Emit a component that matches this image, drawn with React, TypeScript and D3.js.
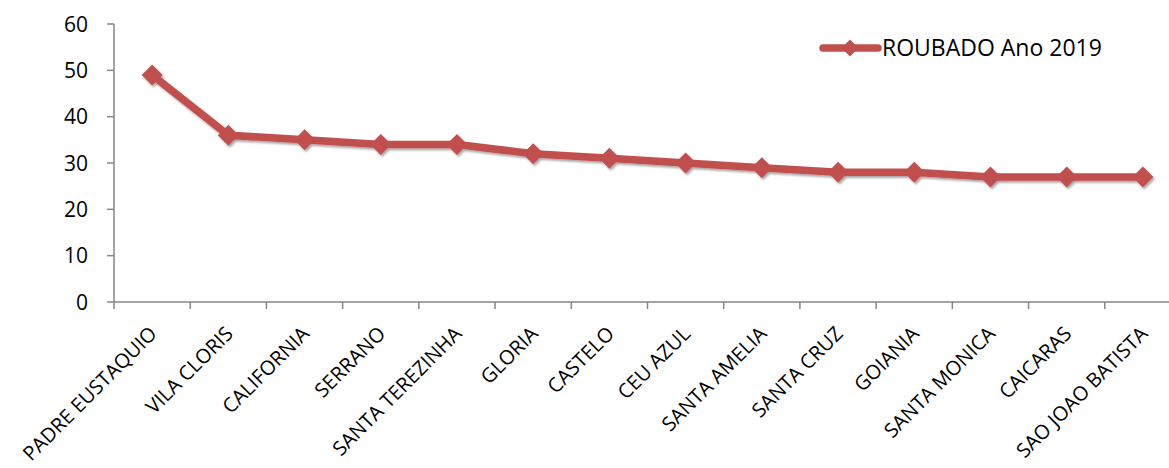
import React from "react";
import * as d3 from "d3";

const categories = [
  "PADRE EUSTAQUIO", "VILA CLORIS", "CALIFORNIA", "SERRANO", "SANTA TEREZINHA",
  "GLORIA", "CASTELO", "CEU AZUL", "SANTA AMELIA", "SANTA CRUZ", "GOIANIA",
  "SANTA MONICA", "CAICARAS", "SAO JOAO BATISTA",
];
const values = [49, 36, 35, 34, 34, 32, 31, 30, 29, 28, 28, 27, 27, 27];
const yTicks = [0, 10, 20, 30, 40, 50, 60];
const seriesName = "ROUBADO Ano 2019";

const W = 1169;
const H = 468;
const left = 114;
const right = 1181;
const top = 24;
const bottom = 302;
const color = "#C0504D";
const axisColor = "#868686";
const font = "'Open Sans', Lato, sans-serif";

export default function App() {
  const x = d3.scaleBand<string>().domain(categories).range([left, right]).paddingInner(0).paddingOuter(0);
  const y = d3.scaleLinear().domain([0, 60]).range([bottom, top]);
  const cx = (c: string) => (x(c) as number) + x.bandwidth() / 2;
  const line = d3.line<number>().x((_, i) => cx(categories[i])).y((d) => y(d));
  const diamond = (px: number, py: number, r: number) =>
    `M${px},${py - r}L${px + r},${py}L${px},${py + r}L${px - r},${py}Z`;
  const boundaries = categories.map((c) => x(c) as number).concat([right]);

  return (
    <svg width={W} height={H} style={{ position: "absolute", left: 0, top: 0, background: "#fff" }}>
      <defs>
        <filter id="sh" x="-50%" y="-50%" width="200%" height="200%">
          <feDropShadow dx="1.5" dy="2" stdDeviation="1.2" floodColor="#000" floodOpacity="0.35" />
        </filter>
      </defs>
      {/* y axis */}
      <line x1={left} x2={left} y1={y(60)} y2={bottom} stroke={axisColor} strokeWidth={1.5} />
      {yTicks.map((t) => (
        <g key={t}>
          <line x1={left - 7} x2={left} y1={y(t)} y2={y(t)} stroke={axisColor} strokeWidth={1.5} />
          <text x={88} y={y(t)} dy="0.36em" textAnchor="end" fontFamily={font} fontSize={21} fill="#000">
            {t}
          </text>
        </g>
      ))}
      {/* x axis */}
      <line x1={left} x2={right} y1={bottom} y2={bottom} stroke={axisColor} strokeWidth={1.5} />
      {boundaries.map((b, i) => (
        <line key={i} x1={b} x2={b} y1={bottom} y2={bottom + 7} stroke={axisColor} strokeWidth={1.5} />
      ))}
      {categories.map((c) => (
        <text
          key={c}
          transform={`translate(${cx(c) + 6},${bottom + 33}) rotate(-45)`}
          textAnchor="end"
          fontFamily={font}
          fontSize={20}
          fill="#000"
        >
          {c}
        </text>
      ))}
      {/* series */}
      <g filter="url(#sh)">
        <path d={line(values) || ""} fill="none" stroke={color} strokeWidth={7.5} strokeLinejoin="round" />
        {values.map((v, i) => (
          <path key={i} d={diamond(cx(categories[i]), y(v), 10.5)} fill={color} />
        ))}
      </g>
      {/* legend */}
      <g>
        <line x1={823} x2={878} y1={48} y2={48} stroke={color} strokeWidth={7.5} strokeLinecap="round" />
        <path d={diamond(850, 48, 8.5)} fill={color} />
        <text x={882} y={56} fontFamily={font} fontSize={23} fill="#000">
          {seriesName}
        </text>
      </g>
    </svg>
  );
}
